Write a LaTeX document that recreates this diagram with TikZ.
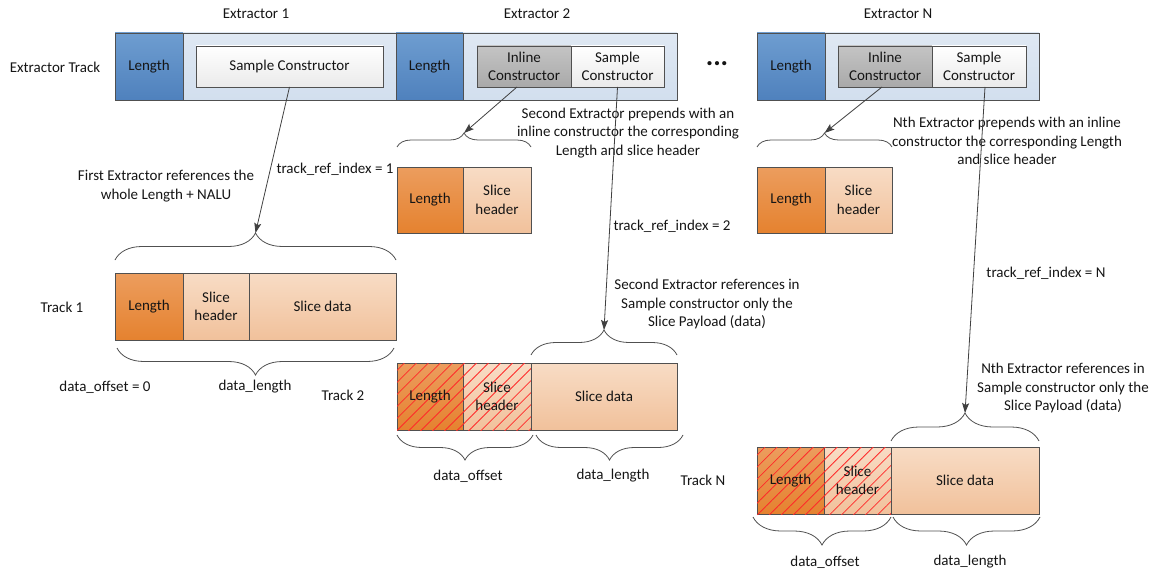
\documentclass[tikz,border=0pt]{standalone}
\usepackage{fontspec}
\setmainfont{Carlito}
\usetikzlibrary{decorations.pathreplacing,patterns.meta,arrows.meta,calc}
\definecolor{bord}{HTML}{505050}
\definecolor{blueT}{HTML}{6E9DD0}
\definecolor{blueB}{HTML}{4F81BD}
\definecolor{contT}{HTML}{DFE8F3}
\definecolor{contB}{HTML}{D2DFEE}
\definecolor{grayT}{HTML}{C4C4C4}
\definecolor{grayB}{HTML}{A9A9A9}
\definecolor{whT}{HTML}{FFFFFF}
\definecolor{whB}{HTML}{EAEAEA}
\definecolor{orT}{HTML}{EC9D5E}
\definecolor{orB}{HTML}{E5822F}
\definecolor{peT}{HTML}{F8DCC5}
\definecolor{peB}{HTML}{F1C19B}
\definecolor{arr}{HTML}{404040}
\definecolor{txt}{HTML}{151515}
\definecolor{hatchred}{HTML}{FF2A2A}
\begin{document}
\begin{tikzpicture}[x=1pt,y=-1pt,
  every node/.style={font=\fontsize{15}{18.5}\selectfont, text=txt, align=center},
  box/.style={draw=bord, line width=.8pt, inner sep=0pt, outer sep=0pt, anchor=north west},
  bluebox/.style={box, top color=blueT, bottom color=blueB},
  contbox/.style={box, top color=contT, bottom color=contB},
  graybox/.style={box, top color=grayT, bottom color=grayB},
  whitebox/.style={box, top color=whT, bottom color=whB},
  orbox/.style={box, top color=orT, bottom color=orB},
  pebox/.style={box, top color=peT, bottom color=peB},
  hatch/.style={postaction={pattern={Lines[angle=45,distance=8.5pt,line width=.8pt]}, pattern color=hatchred}},
  brc/.style={draw=bord, line width=.8pt, decoration={brace, amplitude=#1}, decorate},
  refarrow/.style={draw=arr, line width=.8pt, -{Stealth[length=10pt,width=7pt,inset=2pt]}},
  lbl/.style={anchor=center}
]
\useasboundingbox (0,0) rectangle (1159,575);

% Extractor track
\node[lbl] (etl) at (55,67) {Extractor Track};
\node[lbl] (e1l) at (256,14) {Extractor 1};
\node[lbl] (e2l) at (537,14) {Extractor 2};
\node[lbl] (eNl) at (898,14) {Extractor N};

\node[bluebox, minimum width=68, minimum height=67] (len1) at (115,33) {Length};
\node[contbox, minimum width=213, minimum height=67] (cont1) at (183,33) {};
\node[whitebox, minimum width=187, minimum height=41] (sc1) at (196,46) {Sample Constructor};

\node[bluebox, minimum width=67, minimum height=67] (len2) at (396,33) {Length};
\node[contbox, minimum width=214, minimum height=67] (cont2) at (463,33) {};
\node[graybox, minimum width=94, minimum height=41] (ic2) at (477,46) {Inline\\Constructor};
\node[whitebox, minimum width=93, minimum height=41] (sc2) at (571,46) {Sample\\Constructor};

\node[lbl, font=\fontsize{28}{28}\selectfont\bfseries] (dots) at (717,64) {...};

\node[bluebox, minimum width=68, minimum height=67] (lenN) at (757,33) {Length};
\node[contbox, minimum width=214, minimum height=67] (contN) at (825,33) {};
\node[graybox, minimum width=94, minimum height=41] (icN) at (838,46) {Inline\\Constructor};
\node[whitebox, minimum width=94, minimum height=41] (scN) at (932,46) {Sample\\Constructor};

% Inline constructed pieces
\node[orbox, minimum width=66, minimum height=66] (il2len) at (397,167) {Length};
\node[pebox, minimum width=68, minimum height=66] (il2sh) at (463,167) {Slice\\header};
\node[orbox, minimum width=68, minimum height=66] (ilNlen) at (757,167) {Length};
\node[pebox, minimum width=67, minimum height=66] (ilNsh) at (825,167) {Slice\\header};

% Track 1
\node[lbl] (t1l) at (62,307) {Track 1};
\node[orbox, minimum width=68, minimum height=67] (t1len) at (115,273) {Length};
\node[pebox, minimum width=66, minimum height=67] (t1sh) at (183,273) {Slice\\header};
\node[pebox, minimum width=147, minimum height=67] (t1sd) at (249,273) {Slice data};

% Track 2
\node[lbl] (t2l) at (343,395) {Track 2};
\node[orbox, hatch, minimum width=66, minimum height=67] (t2len) at (397,363) {Length};
\node[pebox, hatch, minimum width=68, minimum height=67] (t2sh) at (463,363) {Slice\\header};
\node[pebox, minimum width=146, minimum height=67] (t2sd) at (531,363) {Slice data};

% Track N
\node[lbl] (tNl) at (703,480) {Track N};
\node[orbox, hatch, minimum width=67, minimum height=67] (tNlen) at (757,447) {Length};
\node[pebox, hatch, minimum width=67, minimum height=67] (tNsh) at (824,447) {Slice\\header};
\node[pebox, minimum width=148, minimum height=67] (tNsd) at (891,447) {Slice data};

% Braces
\draw[brc=14pt] (397,147) -- (531,147);
\coordinate (bil2) at (464,133);
\draw[brc=14pt] (757,147) -- (892,147);
\coordinate (bilN) at (824.5,133);
\draw[brc=27pt] (115,260) -- (396,260);
\coordinate (bt1) at (255.5,233);
\draw[brc=27pt] (394,348) -- (117,348);
\draw[brc=25pt] (531,355) -- (677,355);
\coordinate (bt2) at (604,330);
\draw[brc=25pt] (533,435) -- (397,435);
\draw[brc=25pt] (683,435) -- (536,435);
\draw[brc=28pt] (891,441) -- (1039,441);
\coordinate (btN) at (965,413);
\draw[brc=28pt] (891,517) -- (753,517);
\draw[brc=28pt] (1040,517) -- (893,517);

% Labels
\node[lbl] (l1) at (166,186) {First Extractor references the\\whole Length + NALU};
\node[lbl] (tri1) at (335,169) {track\_ref\_index = 1};
\node[lbl] (do1) at (105,387) {data\_offset = 0};
\node[lbl] (dl1) at (255,387) {data\_length};
\node[lbl] (l2a) at (628,133) {Second Extractor prepends with an\\inline constructor the corresponding\\Length and slice header};
\node[lbl] (tri2) at (672,226) {track\_ref\_index = 2};
\node[lbl] (l2b) at (707,304) {Second Extractor references in\\Sample constructor only the\\Slice Payload (data)};
\node[lbl] (do2) at (468,476) {data\_offset};
\node[lbl] (dl2) at (613,476) {data\_length};
\node[lbl] (lNa) at (1007,141) {Nth Extractor prepends with an inline\\constructor the corresponding Length\\and slice header};
\node[lbl] (triN) at (1046,273) {track\_ref\_index = N};
\node[lbl] (lNb) at (1063,388) {Nth Extractor references in\\Sample constructor only the\\Slice Payload (data)};
\node[lbl] (doN) at (825,562) {data\_offset};
\node[lbl] (dlN) at (970,562) {data\_length};

% Arrows
\draw[refarrow] (sc1.south) -- (bt1);
\draw[refarrow] ($(ic2.south)+(-7,0)$) -- (bil2);
\draw[refarrow] (sc2.south) -- (bt2);
\draw[refarrow] ($(icN.south)+(-3,0)$) -- (bilN);
\draw[refarrow] ($(scN.south)+(6,0)$) -- (btN);
\end{tikzpicture}
\end{document}
